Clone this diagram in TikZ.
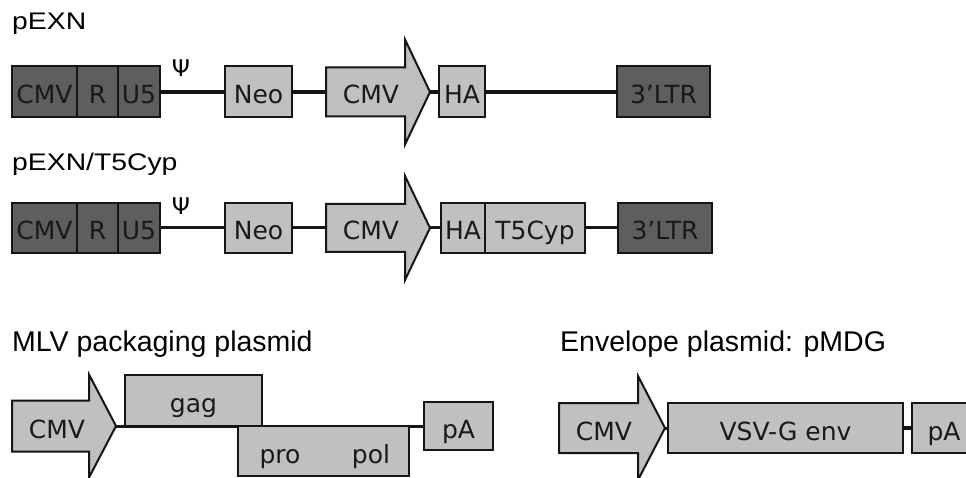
\documentclass[tikz,border=0pt]{standalone}
\usepackage{fontspec}
\setmainfont{DejaVu Sans}
\newfontfamily\titlefont{Liberation Sans}
\definecolor{darkfill}{HTML}{5E5E5E}
\definecolor{lightfill}{HTML}{C0C0C0}
\definecolor{edge}{HTML}{151515}
\tikzset{
  gene/.style={draw=edge, line width=2pt, inner sep=0pt, text height=24pt, text depth=0pt,
    font=\fontsize{25}{30}\selectfont, text=black!90},
  darkbox/.style={gene, fill=darkfill},
  lightbox/.style={gene, fill=lightfill},
  genelabel/.style={gene, draw=none},
  promoter/.style={draw=edge, line width=2pt, fill=lightfill, line join=miter},
  conn/.style={draw=edge, line width=3pt},
  thickconn/.style={draw=edge, line width=3.8pt},
  title/.style={font=\titlefont\fontsize{28.5}{34}\selectfont, anchor=base west, inner sep=0pt},
  toptitle/.style={font=\titlefont\fontsize{24}{29}\selectfont, anchor=base west, inner sep=0pt,
    xscale=1.18, transform shape},
  psi/.style={font=\fontsize{23}{27}\selectfont, anchor=base, inner sep=0pt},
}
\newcommand\mybox[7]{%
  \node[#2, minimum width={(#5-#3)*1pt}, minimum height={(#6-#4)*1pt}] (#1) at ({(#3+#5)/2},{(#4+#6)/2}) {#7};}
\newcommand\myarrow[8]{%
  \draw[promoter] (#2,#5-#6) -- (#3,#5-#6) -- (#3,#5-#7) -- (#4,#5) -- (#3,#5+#7) -- (#3,#5+#6) -- (#2,#5+#6) -- cycle;
  \coordinate (#1-tail) at (#2,#5);
  \coordinate (#1-tip) at (#4,#5);
  \node[genelabel] (#1) at (#8,#5) {CMV};}
\begin{document}
\begin{tikzpicture}[x=1pt,y=-1pt]
\useasboundingbox (0,0) rectangle (966,478);
\clip (0,0) rectangle (966,478);

% ---- pEXN ----
\node[toptitle] (tA) at (12,29.5) {pEXN};
\mybox{cmvA}{darkbox}{12}{66.5}{77}{117.5}{CMV}
\mybox{rA}{darkbox}{77}{66.5}{118}{117.5}{R}
\mybox{uA}{darkbox}{118}{66.5}{160}{117.5}{U5}
\node[psi] (psiA) at (181,77) {Ψ};
\mybox{neoA}{lightbox}{225}{66.5}{292}{117.5}{Neo}
\myarrow{prA}{326}{405}{430}{92}{24.5}{52.5}{371}
\mybox{haA}{lightbox}{439}{66.5}{485}{117.5}{HA}
\mybox{ltrA}{darkbox}{617}{66.5}{710}{117.5}{3’LTR}
\draw[thickconn] (uA.east) -- (neoA.west);
\draw[thickconn] (neoA.east) -- (prA-tail);
\draw[thickconn] (prA-tip) -- (haA.west);
\draw[thickconn] (haA.east) -- (ltrA.west);

% ---- pEXN/T5Cyp ----
\node[toptitle] (tB) at (12,170.5) {pEXN/T5Cyp};
\mybox{cmvB}{darkbox}{12}{203}{77}{253}{CMV}
\mybox{rB}{darkbox}{77}{203}{118}{253}{R}
\mybox{uB}{darkbox}{118}{203}{160}{253}{U5}
\node[psi] (psiB) at (181,215) {Ψ};
\mybox{neoB}{lightbox}{225}{203}{292}{253}{Neo}
\myarrow{prB}{326}{405}{430}{228}{24}{52}{371}
\mybox{haB}{lightbox}{441}{203}{485}{253}{HA}
\mybox{t5B}{lightbox}{485}{203}{585}{253}{T5Cyp}
\mybox{ltrB}{darkbox}{618}{203}{712}{253}{3’LTR}
\draw[conn] (uB.east) -- (neoB.west);
\draw[conn] (neoB.east) -- (prB-tail);
\draw[conn] (prB-tip) -- (haB.west);
\draw[conn] (t5B.east) -- (ltrB.west);

% ---- MLV packaging plasmid ----
\node[title] (tC) at (12,351) {MLV packaging plasmid};
\myarrow{prC}{12}{89}{116}{426}{25.5}{51.5}{57}
\draw[conn] (prC-tip) -- (424,426) coordinate (lineC);
\mybox{gagC}{lightbox}{125}{375}{262}{426}{gag}
\mybox{ppC}{lightbox}{238}{426}{409}{476}{}
\node[genelabel] (proC) at (280,451) {pro};
\node[genelabel] (polC) at (371,451) {pol};
\mybox{paC}{lightbox}{424}{402}{493}{450}{pA}

% ---- Envelope plasmid ----
\node[title] (tD) at (560,351) {Envelope plasmid: pMDG};
\myarrow{prD}{559}{638}{665}{428}{25}{52}{604}
\mybox{vsvD}{lightbox}{668}{403}{903}{453}{VSV-G env}
\mybox{paD}{lightbox}{912}{403}{976}{453}{pA}
\draw[conn] (prD-tip) -- (vsvD.west);
\draw[thickconn] (vsvD.east) -- (paD.west);
\end{tikzpicture}
\end{document}
